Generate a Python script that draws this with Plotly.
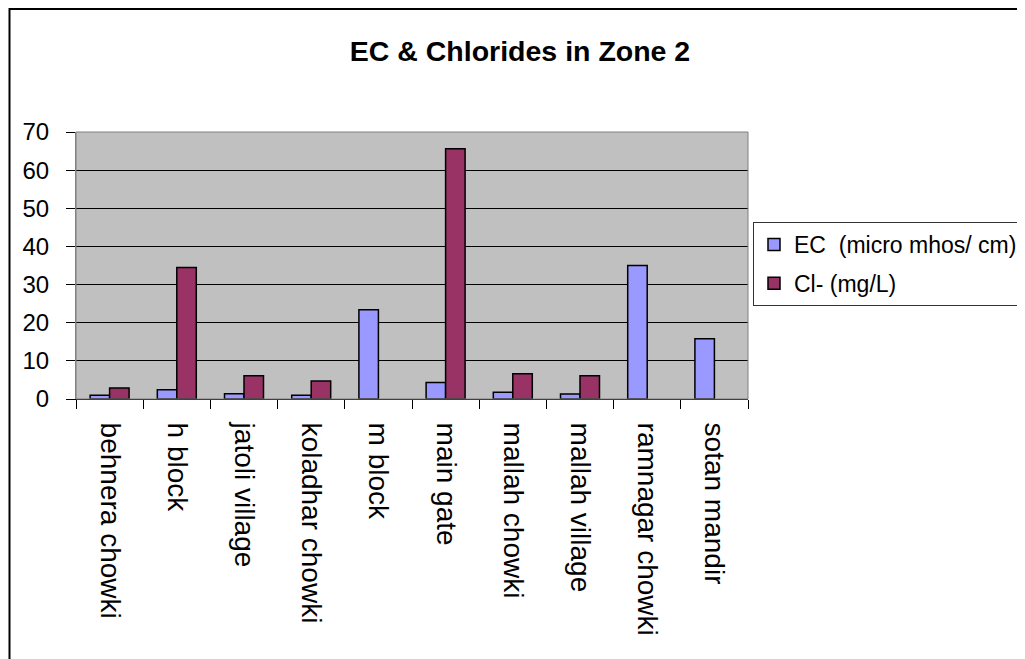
import plotly.graph_objects as go

categories = ["behnera chowki", "h block", "jatoli village", "koladhar chowki",
              "m block", "main gate", "mallah chowki", "mallah village",
              "ramnagar chowki", "sotan mandir"]
ec_values = [1.0, 2.4, 1.4, 1.0, 23.4, 4.3, 1.8, 1.3, 35.0, 15.8]
cl_values = [2.9, 34.5, 6.1, 4.7, None, 65.6, 6.6, 6.1, None, None]
series_names = ["EC  (micro mhos/ cm)", "Cl- (mg/L)"]
y_ticks = [0, 10, 20, 30, 40, 50, 60, 70]

FONT = "Liberation Sans, Arial, sans-serif"

# page is rendered with an 8px body margin, so figure coords = page coords - 8
PL, PR, PT, PB = 68, 740, 124, 391  # plot area in figure pixels
PW, PH = PR - PL, PB - PT

fig = go.Figure()
fig.add_trace(go.Bar(x=categories, y=ec_values, name=series_names[0],
                     legendgroup="a",
                     marker=dict(color="#9999FF", line=dict(color="black", width=1.5))))
fig.add_trace(go.Bar(x=categories, y=cl_values, name=series_names[1],
                     legendgroup="b",
                     marker=dict(color="#993366", line=dict(color="black", width=1.5))))

fig.update_layout(
    width=1025, height=659,
    margin=dict(l=PL, r=1025 - PR, t=PT, b=659 - PB, autoexpand=False),
    paper_bgcolor="white", plot_bgcolor="#C0C0C0",
    barmode="group", bargap=0.42, bargroupgap=0,
    font=dict(family=FONT, color="black"),
    title=dict(text="<b>EC & Chlorides in Zone 2</b>", x=512 / 1025, xref="container",
               xanchor="center", y=1 - 43 / 659, yref="container", yanchor="middle",
               font=dict(size=28.5, family=FONT, color="black")),
    legend=dict(x=745 / 1025, xref="container", xanchor="left",
                y=1 - 214 / 659, yref="container", yanchor="top",
                bgcolor="white", bordercolor="#333333", borderwidth=1,
                font=dict(size=23, family=FONT), traceorder="grouped",
                tracegroupgap=6, itemclick=False),
    showlegend=True,
)
fig.update_xaxes(type="category", tickson="boundaries", ticks="outside", ticklen=9,
                 tickcolor="black", tickwidth=1, tickangle=90,
                 showline=True, linecolor="black", linewidth=1,
                 tickfont=dict(size=28, family=FONT), ticklabelstandoff=17,
                 showgrid=False, automargin=False)
fig.update_yaxes(range=[0, 70], tickvals=y_ticks, ticks="outside", ticklen=9,
                 tickcolor="black", tickwidth=1,
                 showline=True, linecolor="#808080", linewidth=1,
                 showgrid=True, gridcolor="black", gridwidth=1,
                 tickfont=dict(size=24, family=FONT), ticklabelstandoff=12,
                 zeroline=False, automargin=False)

# plot-area border (top/right) and outer chart frame
fig.add_shape(type="rect", xref="paper", yref="paper", x0=0, x1=1, y0=0, y1=1,
              line=dict(color="#808080", width=1), layer="above")
fig.add_shape(type="rect", xref="paper", yref="paper",
              x0=(1.5 - PL) / PW, x1=(1040 - PL) / PW,
              y0=(PB - 680) / PH, y1=(PB - 1) / PH,
              line=dict(color="black", width=2), layer="above")

fig.write_html("out.html")
